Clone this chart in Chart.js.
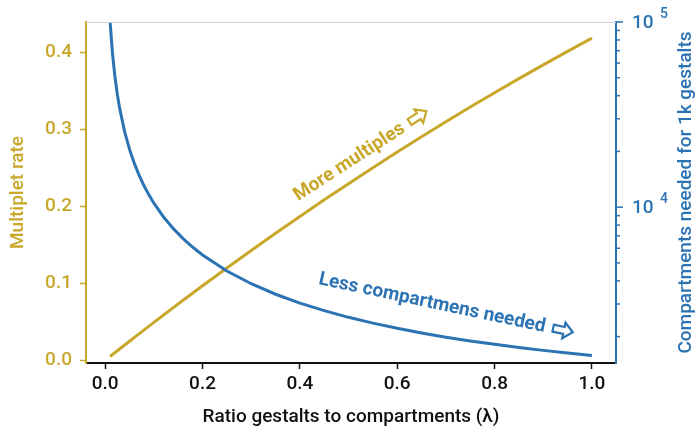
<!DOCTYPE html>
<html>
<head>
<meta charset="utf-8">
<script src="https://cdn.jsdelivr.net/npm/chart.js@4.4.1/dist/chart.umd.min.js"></script>
<style>
    html, body { margin: 0; padding: 0; background: #fff; }
    #wrap { width: 696px; height: 435px; }
</style>
</head>
<body>
<div id="wrap"><canvas id="chart"></canvas></div>
<script>
// ratio gestalts to compartments (lambda)
const lambdas = [0.01, 0.015, 0.02, 0.025, 0.03, 0.04, 0.05, 0.06, 0.07, 0.08, 0.09, 0.1,
    0.12, 0.14, 0.16, 0.18, 0.2, 0.25, 0.3, 0.35, 0.4, 0.45, 0.5, 0.55, 0.6, 0.65,
    0.7, 0.75, 0.8, 0.85, 0.9, 0.95, 1.0];
// left axis: multiplet rate
const multipletRate = [0.005, 0.0075, 0.00997, 0.01245, 0.01493, 0.01987, 0.02479, 0.0297,
    0.03459, 0.03947, 0.04433, 0.04917, 0.0588, 0.06837, 0.07787, 0.0873, 0.09667, 0.1198,
    0.1425, 0.1648, 0.1867, 0.2082, 0.2292, 0.2499, 0.2702, 0.29, 0.3095, 0.3286, 0.3472,
    0.3655, 0.3834, 0.4009, 0.418];
// right axis: compartments needed for 1k gestalts
const compartments = [100500, 67168, 50502, 40502, 33836, 25503, 20504, 17172, 14791, 13007,
    11619, 10508, 8843, 7654, 6763, 6071, 5517, 4521, 3858, 3386, 3033, 2760, 2541, 2364,
    2216, 2092, 1986, 1895, 1816, 1746, 1685, 1631, 1582];

const xTicks = [0, 0.2, 0.4, 0.6, 0.8, 1.0];
const leftTicks = [0, 0.1, 0.2, 0.3, 0.4];

const GOLD = '#C8A72B';
const BLUE = '#2B73B3';
const FONT = 'Roboto, "DejaVu Sans", sans-serif';

// outlined block arrow pointing right, starting at (x0, 0)
function drawArrow(ctx, x0, color) {
    ctx.beginPath();
    ctx.moveTo(x0, -3.5);
    ctx.lineTo(x0 + 11, -3.5);
    ctx.lineTo(x0 + 11, -8);
    ctx.lineTo(x0 + 20, 0);
    ctx.lineTo(x0 + 11, 8);
    ctx.lineTo(x0 + 11, 3.5);
    ctx.lineTo(x0, 3.5);
    ctx.closePath();
    ctx.fillStyle = '#fff';
    ctx.fill();
    ctx.strokeStyle = color;
    ctx.lineWidth = 2.2;
    ctx.lineJoin = 'miter';
    ctx.stroke();
}

// spines, right-axis ticks and title, the two slanted notes
const decorPlugin = {
    id: 'decor',
    afterDraw(chart) {
        const ctx = chart.ctx;
        const area = chart.chartArea;
        const x = chart.scales.x, y = chart.scales.y, y1 = chart.scales.y1;

        ctx.save();
        // top spine
        ctx.strokeStyle = '#d0d0d0';
        ctx.lineWidth = 1;
        ctx.beginPath();
        ctx.moveTo(area.left, area.top + 0.5);
        ctx.lineTo(area.right, area.top + 0.5);
        ctx.stroke();

        // right log axis ticks + labels
        ctx.strokeStyle = BLUE;
        ctx.fillStyle = BLUE;
        ctx.lineWidth = 1.5;
        y1.ticks.forEach(t => {
            const py = y1.getPixelForValue(t.value);
            const exp = Math.log10(t.value);
            const major = Math.abs(exp - Math.round(exp)) < 1e-9;
            ctx.beginPath();
            ctx.moveTo(area.right, py);
            ctx.lineTo(area.right + (major ? 7 : 4), py);
            ctx.stroke();
            if (major) {
                ctx.font = '500 19px ' + FONT;
                ctx.textAlign = 'left';
                ctx.textBaseline = 'middle';
                ctx.fillText('10', area.right + 16, py + 1);
                ctx.font = '500 14px ' + FONT;
                ctx.fillText(String(Math.round(exp)), area.right + 44, py - 8);
            }
        });

        // right axis title, reading bottom to top
        ctx.save();
        ctx.translate(686, (area.top + area.bottom) / 2);
        ctx.rotate(-Math.PI / 2);
        ctx.font = '500 19px ' + FONT;
        ctx.fillStyle = BLUE;
        ctx.textAlign = 'center';
        ctx.textBaseline = 'middle';
        ctx.fillText('Compartments needed for 1k gestalts', 0, 0);
        ctx.restore();

        // notes
        function note(text, xv, yv, scale, angle, color) {
            ctx.save();
            ctx.translate(x.getPixelForValue(xv), scale.getPixelForValue(yv));
            ctx.rotate(angle * Math.PI / 180);
            ctx.font = 'bold 19px ' + FONT;
            const w = ctx.measureText(text).width;
            const total = w + 8 + 20;
            ctx.fillStyle = color;
            ctx.textAlign = 'left';
            ctx.textBaseline = 'middle';
            ctx.fillText(text, -total / 2, 1);
            drawArrow(ctx, -total / 2 + w + 8, color);
            ctx.restore();
        }
        note('More multiples', 0.525, 0.268, y, -33, GOLD);
        note('Less compartmens needed', 0.70, 2950, y1, 12, BLUE);
        ctx.restore();
    }
};

const ctx = document.getElementById('chart').getContext('2d');
new Chart(ctx, {
    type: 'line',
    data: {
        datasets: [{
            label: 'Multiplet rate',
            data: lambdas.map((l, i) => ({ x: l, y: multipletRate[i] })),
            borderColor: GOLD,
            borderWidth: 3,
            pointRadius: 0,
            yAxisID: 'y',
            order: 2
        }, {
            label: 'Compartments needed for 1k gestalts',
            data: lambdas.map((l, i) => ({ x: l, y: compartments[i] })),
            borderColor: BLUE,
            borderWidth: 3,
            pointRadius: 0,
            yAxisID: 'y1',
            order: 1
        }]
    },
    options: {
        responsive: true,
        maintainAspectRatio: false,
        animation: false,
        layout: { padding: { top: 22, left: 0, right: 0, bottom: 0 } },
        plugins: { legend: { display: false }, tooltip: { enabled: false } },
        scales: {
            x: {
                type: 'linear',
                min: -0.0395,
                max: 1.0495,
                afterBuildTicks: s => { s.ticks = xTicks.map(v => ({ value: v })); },
                afterFit: s => { s.height = 72; },
                ticks: {
                    color: '#111',
                    font: { family: FONT, size: 19, weight: '500' },
                    padding: 4,
                    maxRotation: 0,
                    callback: v => v.toFixed(1)
                },
                grid: { drawOnChartArea: false, tickLength: 6, tickWidth: 1.5, tickColor: '#111' },
                border: { color: '#111', width: 2 },
                title: {
                    display: true,
                    text: 'Ratio gestalts to compartments (\u03BB)',
                    color: '#111',
                    font: { family: FONT, size: 19, weight: '500' },
                    padding: { top: 2, bottom: 6 }
                }
            },
            y: {
                position: 'left',
                min: -0.0035,
                max: 0.439,
                afterBuildTicks: s => { s.ticks = leftTicks.map(v => ({ value: v })); },
                afterFit: s => { s.width = 86; },
                ticks: {
                    color: GOLD,
                    font: { family: FONT, size: 19, weight: '500' },
                    padding: 8,
                    callback: v => v.toFixed(1)
                },
                grid: { drawOnChartArea: false, tickLength: 6, tickWidth: 1.5, tickColor: GOLD },
                border: { color: GOLD, width: 2 },
                title: {
                    display: true,
                    text: 'Multiplet rate',
                    color: GOLD,
                    font: { family: FONT, size: 19, weight: '500' },
                    padding: { top: 7, bottom: 4 }
                }
            },
            y1: {
                type: 'logarithmic',
                position: 'right',
                min: 1440,
                max: 100000,
                afterBuildTicks: s => {
                    s.ticks = s.ticks.filter(t => {
                        const p = Math.pow(10, Math.floor(Math.log10(t.value)));
                        return Math.abs(t.value / p - Math.round(t.value / p)) < 1e-6;
                    });
                },
                afterFit: s => { s.width = 80; },
                ticks: { display: false },
                grid: { drawOnChartArea: false, drawTicks: false },
                border: { color: BLUE, width: 2 }
            }
        }
    },
    plugins: [decorPlugin]
});
</script>
</body>
</html>
